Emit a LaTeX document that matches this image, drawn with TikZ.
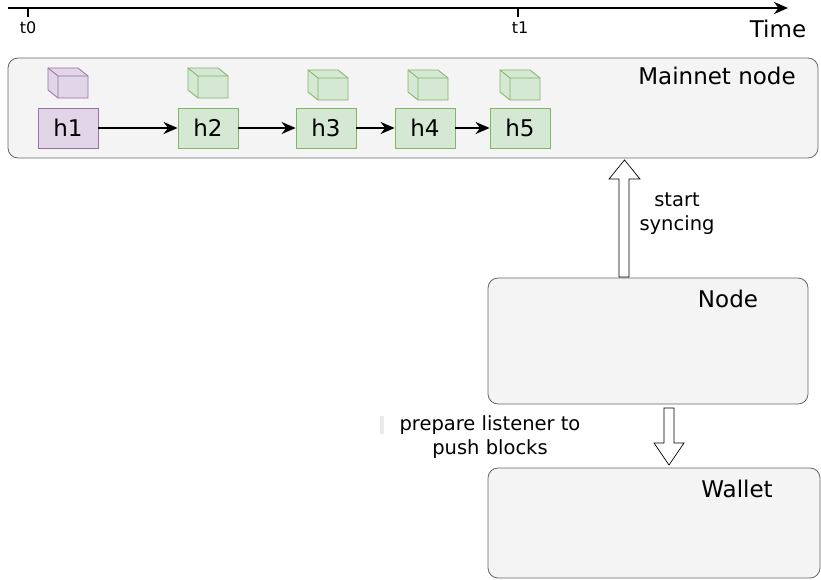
\documentclass[tikz,border=0pt]{standalone}
\usepackage{fontspec}
\setmainfont{DejaVu Sans}
\usetikzlibrary{arrows.meta}
\definecolor{cfill}{HTML}{F4F4F4}
\definecolor{cline}{HTML}{666666}
\definecolor{pfill}{HTML}{E1D5E7}
\definecolor{pline}{HTML}{9673A6}
\definecolor{gfill}{HTML}{D5E8D4}
\definecolor{gline}{HTML}{82B366}
\begin{document}
\begin{tikzpicture}[x=1pt,y=-1pt,
  cont/.style={draw=cline,fill=cfill,rounded corners=10pt,line width=0.8pt},
  lbl/.style={font=\fontsize{23}{27}\selectfont,anchor=center},
  small/.style={font=\fontsize{19.5}{24}\selectfont,align=center},
  hb/.style={draw=gline,fill=gfill,minimum width=60pt,minimum height=40pt,inner sep=0pt,font=\fontsize{23}{27}\selectfont,line width=0.8pt},
  hp/.style={hb,draw=pline,fill=pfill},
  blk/.style={draw=black,fill=white,line width=0.7pt},
  link/.style={-{Stealth[length=14pt,width=12pt]},line width=2.3pt}]
\useasboundingbox (0,0) rectangle (821,579);
% timeline
\coordinate (ts) at (8,8); \coordinate (te) at (788,8);
\draw[-{Stealth[length=14pt,width=12pt]},line width=2.3pt] (ts) -- (te);
\draw[line width=2.3pt] (28,8) -- (28,17) (518,8) -- (518,17);
\node[font=\fontsize{16}{19}\selectfont] (t0) at (28,28) {t0};
\node[font=\fontsize{16}{19}\selectfont] (t1) at (520,28) {t1};
\node[lbl] (time) at (778,29) {Time};
% containers
\draw[cont] (8,58) rectangle (818,158);
\node[lbl] (mn) at (717,76) {Mainnet node};
\draw[cont] (488,278) rectangle (808,404);
\node[lbl] (nd) at (728,299) {Node};
\draw[cont] (488,468) rectangle (820,578);
\node[lbl] (wl) at (737,489) {Wallet};
% cubes
\newcommand{\cube}[4]{%
  \filldraw[draw=#3,fill=#4,line width=0.8pt] (#1,#2) -- (#1+30,#2) -- (#1+40,#2+8) -- (#1+40,#2+30) -- (#1+10,#2+30) -- (#1,#2+22) -- cycle;
  \draw[draw=#3,line width=0.8pt] (#1,#2) -- (#1+10,#2+8) -- (#1+40,#2+8) (#1+10,#2+8) -- (#1+10,#2+30);}
\cube{48}{68}{pline}{pfill}
\cube{188}{68}{gline}{gfill}
\cube{308}{70}{gline}{gfill}
\cube{408}{70}{gline}{gfill}
\cube{500}{70}{gline}{gfill}
% hashes
\node[hp] (h1) at (68,128) {h1};
\node[hb] (h2) at (208,128) {h2};
\node[hb] (h3) at (326,128) {h3};
\node[hb] (h4) at (425,128) {h4};
\node[hb] (h5) at (520,128) {h5};
\draw[link] (h1) -- (h2);
\draw[link] (h2) -- (h3);
\draw[link] (h3) -- (h4);
\draw[link] (h4) -- (h5);
% block arrows
\draw[blk] (619,277) -- (619,179) -- (609,179) -- (624.5,160) -- (640,179) -- (629,179) -- (629,277) -- cycle;
\draw[blk] (664,408) -- (664,443) -- (654,443) -- (669,465) -- (684,443) -- (674,443) -- (674,408) -- cycle;
\node[small] (ss) at (677,214) {start\\syncing};
\fill[black!8] (380,416) rectangle (384,434);
\node[small] (pl) at (490,437) {prepare listener to\\push blocks};
\end{tikzpicture}
\end{document}
